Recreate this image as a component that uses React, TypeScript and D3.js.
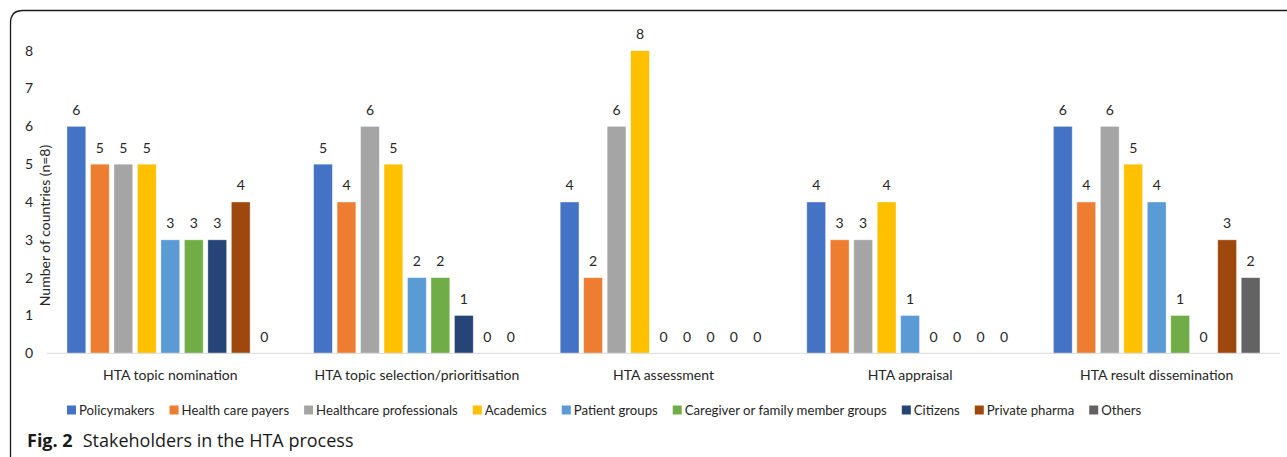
import React from "react";
import * as d3 from "d3";

const categories = [
  "HTA topic nomination",
  "HTA topic selection/prioritisation",
  "HTA assessment",
  "HTA appraisal",
  "HTA result dissemination",
];

const seriesNames = [
  "Policymakers",
  "Health care payers",
  "Healthcare professionals",
  "Academics",
  "Patient groups",
  "Caregiver or family member groups",
  "Citizens",
  "Private pharma",
  "Others",
];

const seriesColors = [
  "#4472C4",
  "#ED7D31",
  "#A5A5A5",
  "#FFC000",
  "#5B9BD5",
  "#70AD47",
  "#264478",
  "#9E480E",
  "#636363",
];

// one row per category, one value per stakeholder
const nomination = [6, 5, 5, 5, 3, 3, 3, 4, 0];
const selection = [5, 4, 6, 5, 2, 2, 1, 0, 0];
const assessment = [4, 2, 6, 8, 0, 0, 0, 0, 0];
const appraisal = [4, 3, 3, 4, 1, 0, 0, 0, 0];
const dissemination = [6, 4, 6, 5, 4, 1, 0, 3, 2];

const yTicks = [0, 1, 2, 3, 4, 5, 6, 7, 8];

const FONT = "Lato, 'Open Sans', sans-serif";

const App = () => {
  const svgRef = React.useRef<SVGSVGElement>(null);

  React.useEffect(() => {
    drawChart(svgRef);
  }, [svgRef]);

  return (
    <div style={{ position: "absolute", left: 0, top: 0 }}>
      <svg ref={svgRef} />
    </div>
  );
};

function drawChart(svgRef: React.RefObject<SVGSVGElement>) {
  const w = 1287;
  const h = 457;
  const left = 47;
  const right = 1280;
  const top = 50.7;
  const bottom = 353.3;

  const rows = [nomination, selection, assessment, appraisal, dissemination];

  const svg = d3.select(svgRef.current).attr("width", w).attr("height", h);
  svg.selectAll("*").remove();
  svg.attr("font-family", FONT);

  // frame round the figure (top and left edges only, rounded corner)
  svg
    .append("path")
    .attr("d", "M10.5,457 L10.5,23 Q10.5,10.5 23,10.5 L1287,10.5")
    .attr("fill", "none")
    .attr("stroke", "#1a1a1a")
    .attr("stroke-width", 1.3);

  const x0 = d3.scaleBand().domain(categories).range([left, right]).padding(0);
  const x1 = d3
    .scaleBand()
    .domain(seriesNames)
    .range([20, x0.bandwidth() - 20])
    .paddingInner(0.2)
    .paddingOuter(0);
  const y = d3.scaleLinear().domain([0, 8]).range([bottom, top]);

  // y tick labels
  svg
    .append("g")
    .selectAll("text")
    .data(yTicks)
    .join("text")
    .attr("x", 33)
    .attr("y", (d) => y(d))
    .attr("dy", "0.35em")
    .attr("text-anchor", "end")
    .attr("font-size", 14)
    .attr("fill", "#262626")
    .text((d) => d);

  // y title
  svg
    .append("text")
    .attr("transform", "translate(49.5,225.5) rotate(-90)")
    .attr("text-anchor", "middle")
    .attr("font-size", 14)
    .attr("fill", "#262626")
    .text("Number of countries (n=8)");

  // bars
  const groups = svg
    .append("g")
    .selectAll("g")
    .data(rows)
    .join("g")
    .attr("transform", (d, i) => `translate(${x0(categories[i])},0)`);

  groups
    .selectAll("rect")
    .data((d) => d.map((v, j) => ({ v, j })))
    .join("rect")
    .attr("x", (d) => x1(seriesNames[d.j]))
    .attr("y", (d) => y(d.v))
    .attr("width", x1.bandwidth())
    .attr("height", (d) => bottom - y(d.v))
    .attr("fill", (d) => seriesColors[d.j])
    .attr("stroke", "#ffffff")
    .attr("stroke-opacity", 0.5)
    .attr("stroke-width", 0.75);

  groups
    .selectAll("text")
    .data((d) => d.map((v, j) => ({ v, j })))
    .join("text")
    .attr("x", (d) => x1(seriesNames[d.j]) + x1.bandwidth() / 2)
    .attr("y", (d) => y(d.v) - 16.5)
    .attr("dy", "0.35em")
    .attr("text-anchor", "middle")
    .attr("font-size", 14)
    .attr("fill", "#262626")
    .text((d) => d.v);

  // x axis line
  svg
    .append("line")
    .attr("x1", left)
    .attr("x2", right)
    .attr("y1", bottom)
    .attr("y2", bottom)
    .attr("stroke", "#d9d9d9")
    .attr("stroke-width", 1);

  // category labels
  svg
    .append("g")
    .selectAll("text")
    .data(categories)
    .join("text")
    .attr("x", (d) => x0(d) + x0.bandwidth() / 2)
    .attr("y", 375)
    .attr("dy", "0.35em")
    .attr("text-anchor", "middle")
    .attr("font-size", 14)
    .attr("fill", "#262626")
    .text((d) => d);

  // legend, laid out left to right from measured text widths
  const legend = svg.append("g");
  let lx = 67;
  seriesNames.forEach((name, i) => {
    legend
      .append("rect")
      .attr("x", lx)
      .attr("y", 405.5)
      .attr("width", 9)
      .attr("height", 9)
      .attr("fill", seriesColors[i]);
    const t = legend
      .append("text")
      .attr("x", lx + 12)
      .attr("y", 410)
      .attr("dy", "0.35em")
      .attr("font-size", 13.2)
      .attr("fill", "#262626")
      .text(name);
    const tw = (t.node() as SVGTextElement).getComputedTextLength();
    lx += 12 + tw + 15;
  });

  // caption
  const cap = svg
    .append("text")
    .attr("x", 27)
    .attr("y", 446.5)
    .attr("font-family", "'Open Sans', 'Noto Sans', sans-serif")
    .attr("font-size", 18)
    .attr("fill", "#1a1a1a");
  cap.append("tspan").attr("font-weight", "bold").text("Fig. 2");
  cap.append("tspan").attr("dx", 10).text("Stakeholders in the HTA process");
}

export default App;
